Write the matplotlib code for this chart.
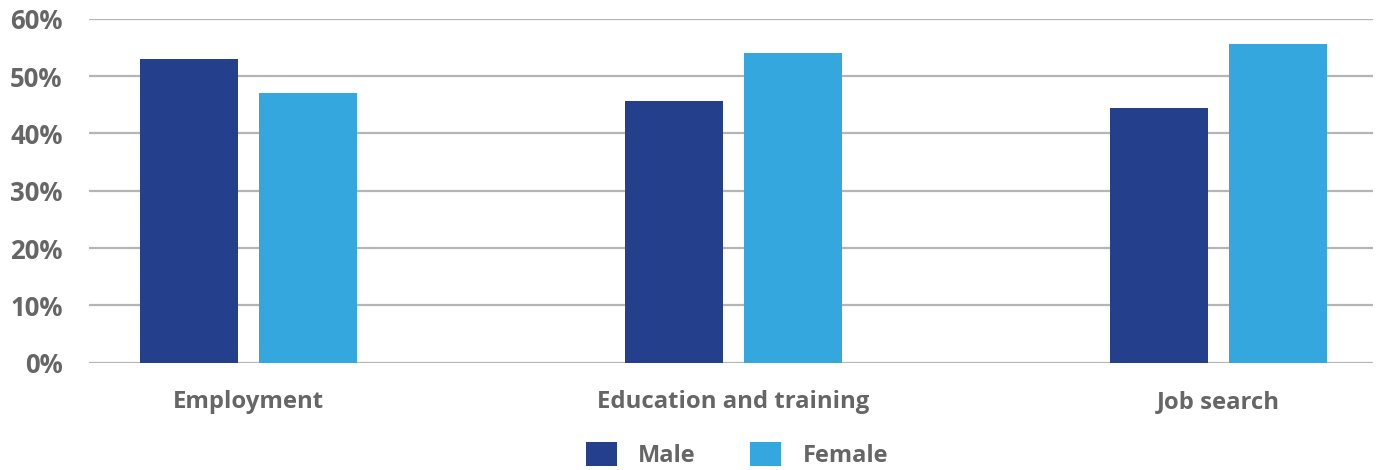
import matplotlib
matplotlib.use("Agg")
import matplotlib.pyplot as plt
import numpy as np

categories = ["Employment", "Education and training", "Job search"]
male = [53.0, 45.7, 44.4]
female = [47.0, 54.0, 55.6]
yticks = [0, 10, 20, 30, 40, 50, 60]
ytick_labels = ["0%", "10%", "20%", "30%", "40%", "50%", "60%"]

plt.rcParams['font.family'] = ['Open Sans', 'DejaVu Sans']
plt.rcParams['font.weight'] = 'bold'
text_color = "#666666"
male_color = "#243F8C"
female_color = "#34A8DE"

fig = plt.figure(figsize=(13.79, 4.70), dpi=100)
ax = fig.add_axes([89/1379, 1-362.7/470, (1373-89)/1379, (362.7-18.7)/470])

x = np.arange(len(categories))
w = 0.202
off = 0.1227
b1 = ax.bar(x - off, male, width=w, color=male_color, zorder=3, label="Male")
b2 = ax.bar(x + off, female, width=w, color=female_color, zorder=3, label="Female")

ax.set_xlim(-0.329, 2.319)
ax.set_ylim(0, 60)
ax.set_yticks(yticks)
ax.set_yticklabels(ytick_labels, fontsize=18.5, fontweight='bold', color=text_color)
ax.set_xticks(x)
ax.set_xticklabels(categories, fontsize=17.2, fontweight='bold', color=text_color)
ax.tick_params(axis='y', length=0, pad=19)
ax.tick_params(axis='x', length=0, pad=20)
ax.grid(axis='y', color="#b5b5b5", linewidth=1.6, zorder=0)
for s in ax.spines.values():
    s.set_visible(False)

leg = fig.legend(handles=[b1, b2], labels=["Male", "Female"], loc='center',
                 bbox_to_anchor=(737/1379, 1-455/470), ncol=2, frameon=False,
                 prop={'family': ['Open Sans', 'DejaVu Sans'], 'weight': 'bold', 'size': 17},
                 handlelength=1.3, handleheight=1.2, handletextpad=0.92,
                 columnspacing=2.3, borderpad=0)
for t in leg.get_texts():
    t.set_color(text_color)

fig.savefig("out.png", dpi=100)
